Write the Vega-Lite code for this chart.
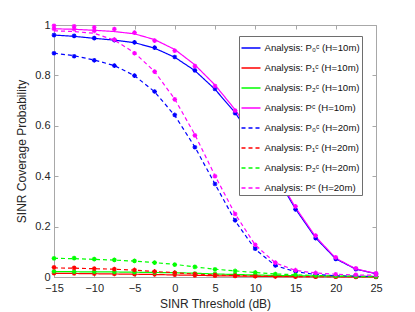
{
  "$schema": "https://vega.github.io/schema/vega-lite/v6.json",
  "autosize": {"type": "none"},
  "padding": {"left": 54, "top": 25, "right": 39, "bottom": 35},
  "width": 322,
  "height": 252,
  "background": "white",
  "config": {
    "view": {"stroke": "#a8a8a8", "strokeWidth": 1},
    "font": "Liberation Sans",
    "axis": {"labelFont": "Liberation Sans", "titleFont": "Liberation Sans", "labelColor": "#262626", "titleColor": "#262626", "titleFontWeight": "normal", "labelFontSize": 11, "titleFontSize": 12, "domainColor": "#a8a8a8", "tickColor": "#a8a8a8", "grid": false, "labelFlush": false},
    "legend": {"labelFont": "Liberation Sans", "labelFontSize": 9.6, "labelColor": "#111111"}
  },
  "data": {"values": [
    {"x":-15,"s":"b10","a":0.960,"m":0.960},{"x":-12.5,"s":"b10","a":0.955,"m":0.957},{"x":-10,"s":"b10","a":0.947,"m":0.948},{"x":-7.5,"s":"b10","a":0.940,"m":0.940},{"x":-5,"s":"b10","a":0.930,"m":0.931},{"x":-2.5,"s":"b10","a":0.908,"m":0.910},{"x":0,"s":"b10","a":0.872,"m":0.873},{"x":2.5,"s":"b10","a":0.819,"m":0.820},{"x":5,"s":"b10","a":0.745,"m":0.746},{"x":7.5,"s":"b10","a":0.652,"m":0.650},{"x":10,"s":"b10","a":0.535,"m":0.533},{"x":12.5,"s":"b10","a":0.405,"m":0.404},{"x":15,"s":"b10","a":0.270,"m":0.268},{"x":17.5,"s":"b10","a":0.155,"m":0.154},{"x":20,"s":"b10","a":0.072,"m":0.072},{"x":22.5,"s":"b10","a":0.031,"m":0.031},{"x":25,"s":"b10","a":0.013,"m":0.012},
    {"x":-15,"s":"r10","a":0.014,"m":0.015},{"x":-12.5,"s":"r10","a":0.014,"m":0.014},{"x":-10,"s":"r10","a":0.013,"m":0.013},{"x":-7.5,"s":"r10","a":0.012,"m":0.012},{"x":-5,"s":"r10","a":0.011,"m":0.011},{"x":-2.5,"s":"r10","a":0.010,"m":0.010},{"x":0,"s":"r10","a":0.008,"m":0.009},{"x":2.5,"s":"r10","a":0.007,"m":0.006},{"x":5,"s":"r10","a":0.005,"m":0.005},{"x":7.5,"s":"r10","a":0.004,"m":0.004},{"x":10,"s":"r10","a":0.003,"m":0.003},{"x":12.5,"s":"r10","a":0.002,"m":0.002},{"x":15,"s":"r10","a":0.001,"m":0.001},{"x":17.5,"s":"r10","a":0.001,"m":0.001},{"x":20,"s":"r10","a":0.001,"m":0.001},{"x":22.5,"s":"r10","a":0.000,"m":0.000},{"x":25,"s":"r10","a":0.000,"m":0.000},
    {"x":-15,"s":"g10","a":0.021,"m":0.022},{"x":-12.5,"s":"g10","a":0.021,"m":0.021},{"x":-10,"s":"g10","a":0.020,"m":0.021},{"x":-7.5,"s":"g10","a":0.020,"m":0.020},{"x":-5,"s":"g10","a":0.019,"m":0.019},{"x":-2.5,"s":"g10","a":0.018,"m":0.018},{"x":0,"s":"g10","a":0.017,"m":0.017},{"x":2.5,"s":"g10","a":0.015,"m":0.014},{"x":5,"s":"g10","a":0.012,"m":0.012},{"x":7.5,"s":"g10","a":0.010,"m":0.010},{"x":10,"s":"g10","a":0.008,"m":0.008},{"x":12.5,"s":"g10","a":0.006,"m":0.006},{"x":15,"s":"g10","a":0.005,"m":0.005},{"x":17.5,"s":"g10","a":0.004,"m":0.004},{"x":20,"s":"g10","a":0.003,"m":0.003},{"x":22.5,"s":"g10","a":0.002,"m":0.002},{"x":25,"s":"g10","a":0.001,"m":0.001},
    {"x":-15,"s":"m10","a":0.985,"m":0.997},{"x":-12.5,"s":"m10","a":0.983,"m":0.995},{"x":-10,"s":"m10","a":0.979,"m":0.991},{"x":-7.5,"s":"m10","a":0.974,"m":0.984},{"x":-5,"s":"m10","a":0.965,"m":0.970},{"x":-2.5,"s":"m10","a":0.942,"m":0.938},{"x":0,"s":"m10","a":0.903,"m":0.898},{"x":2.5,"s":"m10","a":0.842,"m":0.837},{"x":5,"s":"m10","a":0.762,"m":0.758},{"x":7.5,"s":"m10","a":0.664,"m":0.660},{"x":10,"s":"m10","a":0.545,"m":0.545},{"x":12.5,"s":"m10","a":0.412,"m":0.415},{"x":15,"s":"m10","a":0.276,"m":0.280},{"x":17.5,"s":"m10","a":0.160,"m":0.164},{"x":20,"s":"m10","a":0.075,"m":0.078},{"x":22.5,"s":"m10","a":0.032,"m":0.034},{"x":25,"s":"m10","a":0.014,"m":0.015},
    {"x":-15,"s":"b20","a":0.888,"m":0.888},{"x":-12.5,"s":"b20","a":0.878,"m":0.876},{"x":-10,"s":"b20","a":0.861,"m":0.860},{"x":-7.5,"s":"b20","a":0.839,"m":0.839},{"x":-5,"s":"b20","a":0.799,"m":0.799},{"x":-2.5,"s":"b20","a":0.735,"m":0.736},{"x":0,"s":"b20","a":0.641,"m":0.643},{"x":2.5,"s":"b20","a":0.516,"m":0.515},{"x":5,"s":"b20","a":0.369,"m":0.369},{"x":7.5,"s":"b20","a":0.223,"m":0.225},{"x":10,"s":"b20","a":0.110,"m":0.112},{"x":12.5,"s":"b20","a":0.045,"m":0.046},{"x":15,"s":"b20","a":0.021,"m":0.022},{"x":17.5,"s":"b20","a":0.010,"m":0.010},{"x":20,"s":"b20","a":0.005,"m":0.005},{"x":22.5,"s":"b20","a":0.003,"m":0.003},{"x":25,"s":"b20","a":0.002,"m":0.002},
    {"x":-15,"s":"r20","a":0.036,"m":0.038},{"x":-12.5,"s":"r20","a":0.035,"m":0.036},{"x":-10,"s":"r20","a":0.033,"m":0.033},{"x":-7.5,"s":"r20","a":0.031,"m":0.031},{"x":-5,"s":"r20","a":0.027,"m":0.028},{"x":-2.5,"s":"r20","a":0.022,"m":0.022},{"x":0,"s":"r20","a":0.017,"m":0.017},{"x":2.5,"s":"r20","a":0.012,"m":0.012},{"x":5,"s":"r20","a":0.008,"m":0.008},{"x":7.5,"s":"r20","a":0.006,"m":0.006},{"x":10,"s":"r20","a":0.004,"m":0.004},{"x":12.5,"s":"r20","a":0.003,"m":0.003},{"x":15,"s":"r20","a":0.002,"m":0.002},{"x":17.5,"s":"r20","a":0.001,"m":0.001},{"x":20,"s":"r20","a":0.001,"m":0.001},{"x":22.5,"s":"r20","a":0.001,"m":0.001},{"x":25,"s":"r20","a":0.001,"m":0.001},
    {"x":-15,"s":"g20","a":0.074,"m":0.074},{"x":-12.5,"s":"g20","a":0.073,"m":0.075},{"x":-10,"s":"g20","a":0.070,"m":0.071},{"x":-7.5,"s":"g20","a":0.067,"m":0.068},{"x":-5,"s":"g20","a":0.063,"m":0.064},{"x":-2.5,"s":"g20","a":0.057,"m":0.057},{"x":0,"s":"g20","a":0.050,"m":0.049},{"x":2.5,"s":"g20","a":0.040,"m":0.040},{"x":5,"s":"g20","a":0.031,"m":0.030},{"x":7.5,"s":"g20","a":0.024,"m":0.024},{"x":10,"s":"g20","a":0.018,"m":0.018},{"x":12.5,"s":"g20","a":0.012,"m":0.012},{"x":15,"s":"g20","a":0.009,"m":0.009},{"x":17.5,"s":"g20","a":0.006,"m":0.006},{"x":20,"s":"g20","a":0.004,"m":0.004},{"x":22.5,"s":"g20","a":0.003,"m":0.003},{"x":25,"s":"g20","a":0.002,"m":0.002},
    {"x":-15,"s":"m20","a":0.977,"m":0.985},{"x":-12.5,"s":"m20","a":0.974,"m":0.984},{"x":-10,"s":"m20","a":0.967,"m":0.977},{"x":-7.5,"s":"m20","a":0.940,"m":0.942},{"x":-5,"s":"m20","a":0.890,"m":0.888},{"x":-2.5,"s":"m20","a":0.815,"m":0.815},{"x":0,"s":"m20","a":0.706,"m":0.705},{"x":2.5,"s":"m20","a":0.565,"m":0.562},{"x":5,"s":"m20","a":0.402,"m":0.400},{"x":7.5,"s":"m20","a":0.250,"m":0.250},{"x":10,"s":"m20","a":0.127,"m":0.128},{"x":12.5,"s":"m20","a":0.056,"m":0.057},{"x":15,"s":"m20","a":0.026,"m":0.027},{"x":17.5,"s":"m20","a":0.016,"m":0.016},{"x":20,"s":"m20","a":0.011,"m":0.011},{"x":22.5,"s":"m20","a":0.008,"m":0.009},{"x":25,"s":"m20","a":0.007,"m":0.008}
  ]},
  "resolve": {"axis": {"x": "independent", "y": "independent"}},
  "layer": [
    {
      "mark": {"type": "line", "strokeWidth": 1.2},
      "encoding": {
        "x": {"field": "x", "type": "quantitative", "scale": {"domain": [-15, 25], "nice": false, "zero": false},
              "axis": {"orient": "bottom", "values": [-15,-10,-5,0,5,10,15,20,25], "tickSize": -4, "labelPadding": 9, "title": "SINR Threshold (dB)", "titlePadding": 5}},
        "y": {"field": "a", "type": "quantitative", "scale": {"domain": [0, 1], "nice": false, "zero": false},
              "axis": {"orient": "left", "values": [0,0.2,0.4,0.6,0.8,1], "format": "~g", "tickSize": -4, "labelPadding": 8, "title": "SINR Coverage Probability", "titlePadding": 6}},
        "order": {"field": "x", "type": "quantitative"},
        "color": {"field": "s", "type": "nominal",
          "scale": {"domain": ["b10","r10","g10","m10","b20","r20","g20","m20"], "range": ["#0000ff","#ff0000","#00ff00","#ff00ff","#0000ff","#ff0000","#00ff00","#ff00ff"]},
          "legend": {"title": null, "orient": "none", "legendX": 185, "legendY": 11, "fillColor": "white", "strokeColor": "#6e6e6e", "padding": 1.5, "rowPadding": 4, "symbolType": "stroke", "symbolSize": 361, "symbolStrokeWidth": 1.5, "labelOffset": 3,
            "labelExpr": "datum.label=='b10'?'Analysis: P₀ᶜ (H=10m)':datum.label=='r10'?'Analysis: P₁ᶜ (H=10m)':datum.label=='g10'?'Analysis: P₂ᶜ (H=10m)':datum.label=='m10'?'Analysis: Pᶜ (H=10m)':datum.label=='b20'?'Analysis: P₀ᶜ (H=20m)':datum.label=='r20'?'Analysis: P₁ᶜ (H=20m)':datum.label=='g20'?'Analysis: P₂ᶜ (H=20m)':'Analysis: Pᶜ (H=20m)'"}},
        "strokeDash": {"field": "s", "type": "nominal",
          "scale": {"domain": ["b10","r10","g10","m10","b20","r20","g20","m20"], "range": [[1,0],[1,0],[1,0],[1,0],[4,3],[4,3],[4,3],[4,3]]},
          "legend": {"title": null, "orient": "none", "legendX": 185, "legendY": 11, "fillColor": "white", "strokeColor": "#6e6e6e", "padding": 1.5, "rowPadding": 4, "symbolType": "stroke", "symbolSize": 361, "symbolStrokeWidth": 1.5, "labelOffset": 3,
            "labelExpr": "datum.label=='b10'?'Analysis: P₀ᶜ (H=10m)':datum.label=='r10'?'Analysis: P₁ᶜ (H=10m)':datum.label=='g10'?'Analysis: P₂ᶜ (H=10m)':datum.label=='m10'?'Analysis: Pᶜ (H=10m)':datum.label=='b20'?'Analysis: P₀ᶜ (H=20m)':datum.label=='r20'?'Analysis: P₁ᶜ (H=20m)':datum.label=='g20'?'Analysis: P₂ᶜ (H=20m)':'Analysis: Pᶜ (H=20m)'"}}
      }
    },
    {
      "mark": {"type": "point", "shape": "M-1,0L1,0M0,-1L0,1M-0.7,-0.7L0.7,0.7M-0.7,0.7L0.7,-0.7", "filled": false, "strokeWidth": 1.2, "size": 22, "opacity": 1},
      "encoding": {
        "x": {"field": "x", "type": "quantitative", "scale": {"domain": [-15, 25], "nice": false, "zero": false}, "axis": {"orient": "top", "values": [-15,-10,-5,0,5,10,15,20,25], "labels": false, "domain": false, "tickSize": -4, "title": null}},
        "y": {"field": "m", "type": "quantitative", "scale": {"domain": [0, 1], "nice": false, "zero": false}, "axis": {"orient": "right", "values": [0,0.2,0.4,0.6,0.8,1], "labels": false, "domain": false, "tickSize": -4, "title": null}},
        "stroke": {"field": "s", "type": "nominal",
          "scale": {"domain": ["b10","r10","g10","m10","b20","r20","g20","m20"], "range": ["#0000ff","#ff0000","#00ff00","#ff00ff","#0000ff","#ff0000","#00ff00","#ff00ff"]},
          "legend": null}
      }
    }
  ]
}
